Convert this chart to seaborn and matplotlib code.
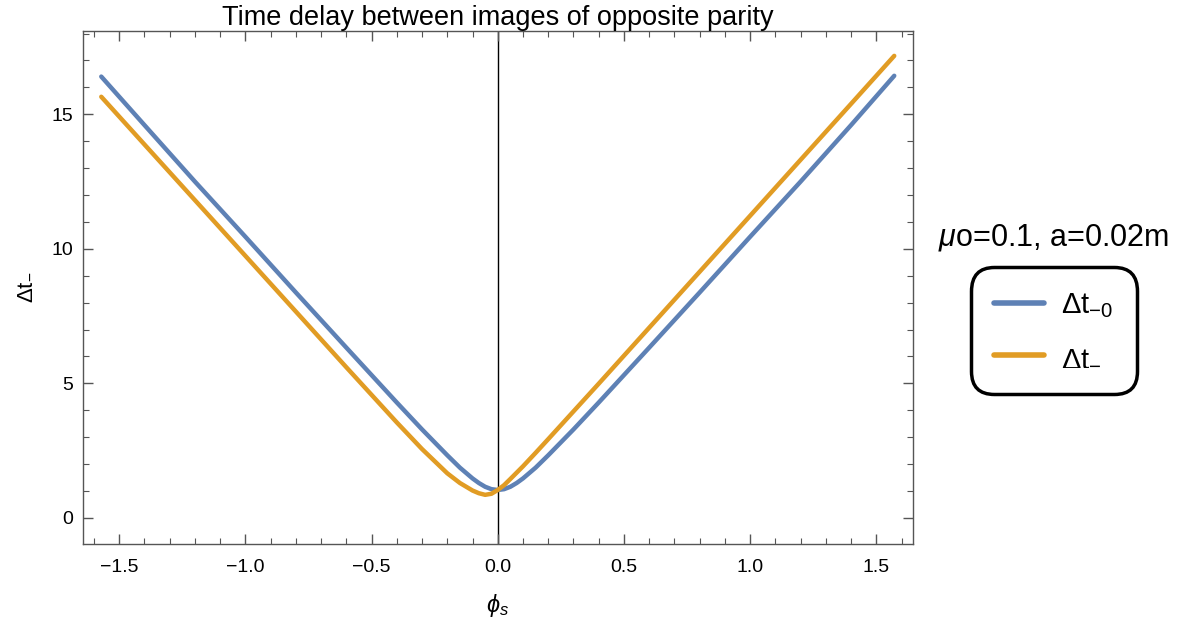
import numpy as np
import pandas as pd
import seaborn as sns
import matplotlib.pyplot as plt

# values
phi_blue = [-1.5708, -1.4, -1.2, -1.0, -0.8, -0.6, -0.4, -0.3, -0.2, -0.15, -0.1, -0.075, -0.05, -0.025,
            0.0, 0.025, 0.05, 0.075, 0.1, 0.15, 0.2, 0.3, 0.4, 0.6, 0.8, 1.0, 1.2, 1.4, 1.5708]
dt_blue = [16.4, 14.6, 12.5, 10.45, 8.38, 6.33, 4.29, 3.29, 2.33, 1.87, 1.47, 1.3, 1.16, 1.07,
           1.04, 1.07, 1.16, 1.3, 1.47, 1.87, 2.33, 3.29, 4.29, 6.33, 8.38, 10.45, 12.5, 14.6, 16.43]

phi_orange = [-1.5708, -1.4, -1.2, -1.0, -0.8, -0.6, -0.4, -0.3, -0.2, -0.15, -0.1, -0.075, -0.05, -0.025,
              0.0, 0.025, 0.05, 0.1, 0.15, 0.2, 0.3, 0.4, 0.6, 0.8, 1.0, 1.2, 1.4, 1.5708]
dt_orange = [15.65, 13.88, 11.81, 9.74, 7.67, 5.6, 3.55, 2.56, 1.66, 1.3, 1.02, 0.92, 0.86, 0.9,
             1.04, 1.22, 1.45, 1.92, 2.42, 2.93, 3.96, 4.99, 7.07, 9.15, 11.23, 13.31, 15.39, 17.17]

labels = [r'$\mathregular{\Delta t_{-0}}$', r'$\mathregular{\Delta t_{-}}$']
colors = ['#5E81B5', '#E19C24']

df = pd.concat([
    pd.DataFrame({'phi': phi_blue, 'dt': dt_blue, 'curve': labels[0]}),
    pd.DataFrame({'phi': phi_orange, 'dt': dt_orange, 'curve': labels[1]}),
])

sns.set_style('ticks')
plt.rcParams['font.family'] = ['Liberation Sans', 'DejaVu Sans']
plt.rcParams['mathtext.fontset'] = 'custom'
plt.rcParams['mathtext.rm'] = 'Liberation Sans'
plt.rcParams['mathtext.it'] = 'Liberation Sans:italic'
plt.rcParams['text.color'] = 'black'
plt.rcParams['axes.labelcolor'] = 'black'
plt.rcParams['xtick.labelcolor'] = 'black'
plt.rcParams['ytick.labelcolor'] = 'black'

fig = plt.figure(figsize=(11.95, 6.29), dpi=100)
ax = fig.add_axes([0.0695, 0.135, 0.6945, 0.816])

sns.lineplot(data=df, x='phi', y='dt', hue='curve', palette=colors, linewidth=3.2, ax=ax, sort=False)
ax.axvline(0, color='black', lw=1.0, zorder=0)

ax.set_xlim(-1.643, 1.645)
ax.set_ylim(-0.97, 18.1)
ax.set_xticks([-1.5, -1.0, -0.5, 0.0, 0.5, 1.0, 1.5])
ax.set_xticks(np.arange(-1.6, 1.61, 0.1), minor=True)
ax.set_yticks([0, 5, 10, 15])
ax.set_yticks(np.arange(0, 19, 1), minor=True)
ax.set_xticklabels(['−1.5', '−1.0', '−0.5', '0.0', '0.5', '1.0', '1.5'])

ax.tick_params(which='both', direction='in', top=True, right=True, color='#555555', labelsize=14)
ax.tick_params(which='major', length=7, width=1)
ax.tick_params(which='minor', length=4, width=0.8)
ax.tick_params(axis='x', pad=11)
ax.tick_params(axis='y', pad=7)
for s in ax.spines.values():
    s.set_color('#555555')
    s.set_linewidth(1.0)

ax.set_xlabel(r'$\phi_s$', fontsize=17, labelpad=11)
ax.set_ylabel(r'$\mathregular{\Delta t_{-}}$', fontsize=16, labelpad=12)
ax.set_title('Time delay between images of opposite parity', fontsize=19.5, pad=3)

handles, labs = ax.get_legend_handles_labels()
leg = ax.legend(handles, labs, loc='center', bbox_to_anchor=(0.882, 0.474), bbox_transform=fig.transFigure,
                fontsize=21, handlelength=1.7, handletextpad=0.6, labelspacing=0.8, borderpad=0.6,
                frameon=True, framealpha=1)
frame = leg.get_frame()
frame.set_edgecolor('black')
frame.set_linewidth(2.5)
frame.set_boxstyle('round,pad=0.2,rounding_size=0.8')
for h in leg.get_lines():
    h.set_linewidth(4)

fig.text(0.882, 0.622, r'$\mu$o=0.1, a=0.02m', fontsize=22, ha='center', va='center')

plt.savefig('out.png', dpi=100)
